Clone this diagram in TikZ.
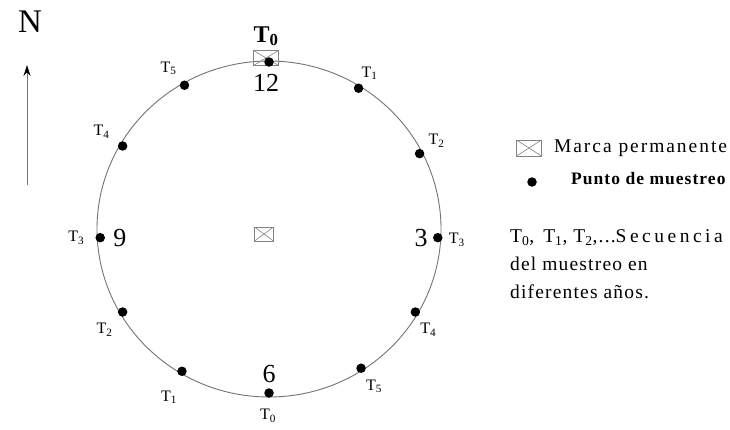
\documentclass[tikz,border=0pt]{standalone}
\usepackage{fontspec}
\setmainfont{Liberation Serif}
\newfontfamily\spaced[LetterSpace=6]{Liberation Serif}
\usetikzlibrary{positioning, arrows.meta}

\definecolor{ringgray}{RGB}{115,115,115}
\definecolor{boxgray}{RGB}{130,130,130}

\tikzstyle{ring} = [
draw=ringgray,
line width=0.9pt]
\tikzstyle{dot} = [
circle,
fill=black,
inner sep=0pt,
minimum size=9.5pt]
\tikzstyle{markbox} = [
rectangle,
draw=boxgray,
line width=0.8pt,
inner sep=0pt,
minimum width=25pt,
minimum height=15pt,
path picture={
  \draw[boxgray, line width=0.6pt]
    (path picture bounding box.north west) -- (path picture bounding box.south east)
    (path picture bounding box.south west) -- (path picture bounding box.north east);}]
\tikzstyle{tlabel} = [
font=\fontsize{16}{16}\selectfont,
inner sep=0pt]
\tikzstyle{hour} = [
font=\fontsize{26}{26}\selectfont,
inner sep=0pt]
\tikzstyle{legend} = [
font=\spaced\fontsize{19.5}{28}\selectfont,
align=left,
inner sep=0pt]
\tikzstyle{northarrow} = [
draw=ringgray,
line width=0.8pt,
-{Stealth[length=11pt, width=7pt, black]}]

\begin{document}
\begin{tikzpicture}[x=1pt, y=1pt, node distance=4pt]

\useasboundingbox (0,0) rectangle (730,429);

% circle of sampling points
\draw[ring] (269,200) ellipse [x radius=172, y radius=168];

\begin{scope}[shift={(269,200)}]
\node[markbox] (topMark) at (-3,171) {};
\node[markbox, minimum width=19pt, minimum height=14pt] (centreMark) at (-5,-5) {};

\node[dot] (dotTwelve) at (90:169 and 167) {};
\node[dot] (dotOne) at (58:169 and 166) {};
\node[dot] (dotTwo) at (27:169 and 166) {};
\node[dot] (dotThree) at (-3:169 and 166) {};
\node[dot] (dotFour) at (-30:169 and 166) {};
\node[dot] (dotFive) at (-57:169 and 166) {};
\node[dot] (dotSix) at (-90:169 and 164) {};
\node[dot] (dotSeven) at (-121:169 and 166) {};
\node[dot] (dotEight) at (-150:169 and 166) {};
\node[dot] (dotNine) at (183:169 and 166) {};
\node[dot] (dotTen) at (150:169 and 166) {};
\node[dot] (dotEleven) at (120:169 and 166) {};
\end{scope}

% sequence labels
\node[tlabel, font=\bfseries\fontsize{24}{24}\selectfont, above=4pt of topMark] (tZeroTop) {T\textsubscript{0}};
\node[tlabel] (tOneR) at ([shift={(11,15)}]dotOne) {T\textsubscript{1}};
\node[tlabel] (tTwoR) at ([shift={(17,13)}]dotTwo) {T\textsubscript{2}};
\node[tlabel] (tThreeR) at ([shift={(19,-2)}]dotThree) {T\textsubscript{3}};
\node[tlabel] (tFourR) at ([shift={(13,-18)}]dotFour) {T\textsubscript{4}};
\node[tlabel] (tFiveR) at ([shift={(13,-18)}]dotFive) {T\textsubscript{5}};
\node[tlabel] (tZeroBottom) at ([shift={(-1,-23)}]dotSix) {T\textsubscript{0}};
\node[tlabel] (tOneL) at ([shift={(-13,-26)}]dotSeven) {T\textsubscript{1}};
\node[tlabel] (tTwoL) at ([shift={(-18,-18)}]dotEight) {T\textsubscript{2}};
\node[tlabel] (tThreeL) at ([shift={(-24,0)}]dotNine) {T\textsubscript{3}};
\node[tlabel] (tFourL) at ([shift={(-21,14)}]dotTen) {T\textsubscript{4}};
\node[tlabel] (tFiveL) at ([shift={(-16,17)}]dotEleven) {T\textsubscript{5}};

% clock hours
\node[hour, below=8pt of topMark] (hourTwelve) {12};
\node[hour, left=5pt of dotThree] (hourThree) {3};
\node[hour, above=5pt of dotSix] (hourSix) {6};
\node[hour, right=8pt of dotNine] (hourNine) {9};

% north
\node[font=\fontsize{33}{33}\selectfont, inner sep=0pt] (north) at (30,407) {N};
\coordinate (arrowFoot) at (27,244);
\coordinate (arrowHead) at (27,364);
\draw[northarrow] (arrowFoot) -- (arrowHead);

% legend
\node[markbox, minimum height=16pt] (legMark) at (529,281) {};
\node[legend, right=12pt of legMark] (legMarkText) {\addfontfeature{LetterSpace=10}Marca permanente};
\node[dot] (legDot) at (532,247) {};
\node[legend, font=\spaced\bfseries\fontsize{17.5}{17.5}\selectfont, anchor=base west] (legDotText) at (571,244) {Punto de muestreo};
\node[legend, anchor=north west] (sequenceText) at (510,200)
  {T\textsubscript{0},\hspace{9pt}T\textsubscript{1}, T\textsubscript{2},...{\addfontfeature{LetterSpace=18}Secuencia}\\del muestreo en\\diferentes años.};

\end{tikzpicture}
\end{document}
